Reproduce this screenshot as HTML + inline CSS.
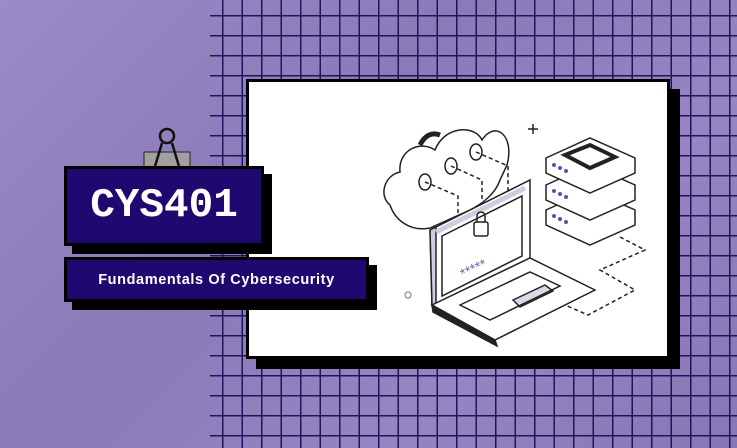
<!DOCTYPE html>
<html><head><style>
body{margin:0;width:737px;height:448px;overflow:hidden;background:#9282bf;position:relative;font-family:"Liberation Sans",sans-serif}
.bg{position:absolute;inset:0;background:linear-gradient(135deg,#9a8cc6 0%,#8a7ab8 40%,#9585c0 70%,#8676b4 100%)}
.grid{position:absolute;left:210px;top:0;width:527px;height:448px;
background-image:linear-gradient(to right,#24125e 1.3px,transparent 1.3px),linear-gradient(to bottom,#24125e 1.3px,transparent 1.3px);
background-size:19.5px 20px;background-position:12px 15px}
.box{position:absolute;background:#1f0870;border:3px solid #000;box-shadow:8px 8px 0 #000;color:#fff;display:flex;align-items:center;justify-content:center}
</style></head><body>
<div class="bg"></div>
<div class="grid"></div>
<div style="position:absolute;left:246px;top:79px;width:418px;height:274px;background:#fff;border:3px solid #000;box-shadow:10px 10px 0 #000"></div>
<svg style="position:absolute;left:0;top:0" width="737" height="448" fill="none" stroke="#222" stroke-width="1.5">
<path d="M390 205 C378 195 385 175 400 172 C398 150 420 140 435 150 C445 125 475 125 482 140 C495 120 515 135 507 165 L500 180 C495 195 480 205 470 210 L430 228 C410 232 395 220 390 205Z" fill="#fff"/>
<path d="M420 145 C425 135 432 132 440 135" stroke="#222" stroke-width="5"/>
<ellipse cx="425" cy="182" rx="6" ry="8"/><ellipse cx="451" cy="166" rx="6" ry="8"/><ellipse cx="476" cy="152" rx="6" ry="8"/>
<path d="M425 182 L458 196 V235 M451 166 L482 180 V222 M476 152 L508 166 V205" stroke-dasharray="4 3"/>
<path d="M430 230 L530 180 L530 258 L432 305 Z" fill="#fff"/>
<path d="M430 230 L436 227 L436 305 L432 305Z" fill="#cfcbe0"/>
<path d="M436 232 L525 188" stroke="#cfcbe0" stroke-width="5"/>
<path d="M442 236 L522 196 L522 256 L442 296Z"/>
<rect x="474" y="222" width="14" height="14" rx="2"/><path d="M477 222 v-6 a4 4 0 0 1 8 0 v6"/>
<text x="460" y="275" fill="#7a5cb5" stroke="none" font-size="14" font-family="Liberation Sans" transform="rotate(-25 470 270)">*****</text>
<path d="M432 305 L530 258 L595 290 L495 340 Z" fill="#fff"/>
<path d="M432 305 L495 340 L497 346 L433 312Z" fill="#222"/>
<path d="M513 300 L545 285 L553 291 L520 307Z" fill="#dcd8e8"/>
<path d="M460 305 L530 272 L560 286 L490 320Z"/>
<g fill="#fff">
<path d="M546 210 L590 190 L635 210 L635 225 L590 245 L546 225Z"/>
<path d="M546 185 L590 165 L635 185 L635 200 L590 220 L546 200Z"/>
<path d="M546 158 L590 138 L635 158 L635 173 L590 193 L546 173Z"/>
</g>
<path d="M565 155 L590 145 L615 157 L590 168Z" stroke-width="4"/>
<g fill="#6b4aa8" stroke="none"><circle cx="554" cy="165" r="2"/><circle cx="560" cy="168" r="2"/><circle cx="566" cy="171" r="2"/>
<circle cx="554" cy="191" r="2"/><circle cx="560" cy="194" r="2"/><circle cx="566" cy="197" r="2"/>
<circle cx="554" cy="216" r="2"/><circle cx="560" cy="219" r="2"/><circle cx="566" cy="222" r="2"/></g>
<path d="M620 237 L645 250 L600 270 L635 290 L588 315 L565 305" stroke-dasharray="4 3"/>
<path d="M533 124 v10 M528 129 h10"/>
<circle cx="408" cy="295" r="3" stroke="#999"/>
<rect x="144" y="152" width="46" height="20" fill="#a0a0a0" stroke="#222" stroke-width="1"/>
<rect x="142" y="171" width="50" height="3" fill="#a0a0a0" stroke="none"/>
<path d="M153 173 L162 143 M181 173 L172 143" stroke="#111" stroke-width="2.5"/>
<circle cx="167" cy="136" r="7" stroke="#111" stroke-width="2.5"/>
</svg>
<div class="box" style="left:64px;top:166px;width:194px;height:74px;font-family:'Liberation Mono',monospace;font-weight:bold;font-size:41px">CYS401</div>
<div class="box" style="left:64px;top:257px;width:299px;height:39px;font-size:14.5px;font-weight:bold;letter-spacing:0.6px">Fundamentals Of Cybersecurity</div>
</body></html>
